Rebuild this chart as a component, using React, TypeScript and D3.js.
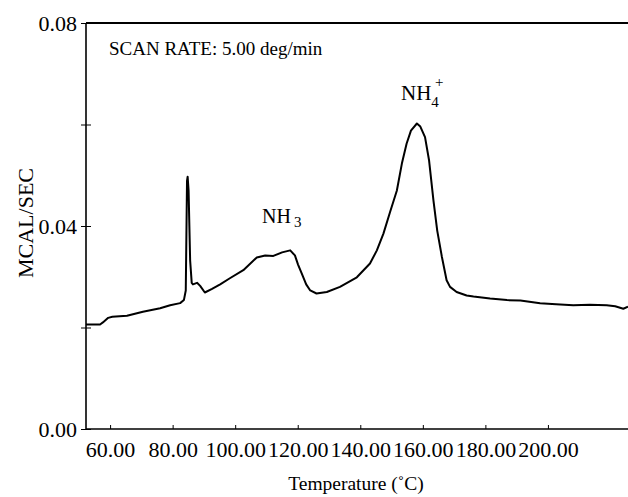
import React, { useRef, useEffect } from 'react';
import * as d3 from 'd3';

// trace (temperature in deg C, heat flow in MCAL/SEC)
const temps = [
  52.3, 56.8, 57.7, 59.4, 60.7, 65.4, 70.5, 76.0, 79.2, 82.4, 83.6, 84.2, 84.6, 84.8, 85.1,
  85.6, 86.1, 86.5, 87.8, 88.8, 90.3, 92.6, 95.2, 98.3, 102.6, 106.9, 109.6, 112.2, 115.0,
  117.6, 119.1, 120.1, 121.3, 122.7, 124.0, 126.0, 129.3, 133.5, 138.9, 143.1, 145.3, 147.4,
  149.5, 151.7, 153.3, 154.8, 156.2, 158.1, 159.2, 160.7, 162.0, 163.4, 164.6, 166.1, 167.6,
  168.7, 170.8, 174.0, 176.2, 181.5, 186.9, 191.2, 197.5, 202.6, 208.1, 213.4, 218.8, 221.5,
  224.1, 225.6,
];
const values = [
  0.0206, 0.0206, 0.0210, 0.0219, 0.0221, 0.0223, 0.0231, 0.0238, 0.0244, 0.0248, 0.0254,
  0.0273, 0.0489, 0.0497, 0.0470, 0.0332, 0.0288, 0.0285, 0.0288, 0.0282, 0.0269, 0.0276,
  0.0285, 0.0297, 0.0313, 0.0338, 0.0342, 0.0341, 0.0348, 0.0352, 0.0342, 0.0324, 0.0306,
  0.0285, 0.0273, 0.0267, 0.0270, 0.0280, 0.0299, 0.0326, 0.0352, 0.0385, 0.0427, 0.0470,
  0.0523, 0.0562, 0.0588, 0.0602, 0.0596, 0.0575, 0.0529, 0.0450, 0.0391, 0.0339, 0.0293,
  0.0280, 0.0270, 0.0263, 0.0261, 0.0257, 0.0254, 0.0253, 0.0248, 0.0246, 0.0244, 0.0245,
  0.0244, 0.0242, 0.0237, 0.0241,
];
const xTicks = [60, 80, 100, 120, 140, 160, 180, 200];
const yTicks = [0, 0.02, 0.04, 0.06, 0.08];
const yLabelled = [0, 0.04, 0.08];

const serif = '"Liberation Serif", "DejaVu Serif", serif';

const App = () => {
  const svgRef = useRef<SVGSVGElement>(null);

  useEffect(() => {
    document.body.style.margin = '0';
    const svg = d3.select(svgRef.current);
    svg.selectAll('*').remove();

    const width = 628;
    const height = 497;
    const margin = { top: 23, right: 0, bottom: 68, left: 86 };

    const x = d3.scaleLinear()
      .domain([52.3, 225.6])
      .range([margin.left, width - margin.right]);

    const y = d3.scaleLinear()
      .domain([0, 0.08])
      .range([height - margin.bottom, margin.top]);

    // frame: left, bottom and top lines
    svg.append('line')
      .attr('x1', margin.left).attr('x2', margin.left)
      .attr('y1', y(0.08)).attr('y2', y(0))
      .attr('stroke', '#000').attr('stroke-width', 1.6);
    svg.append('line')
      .attr('x1', margin.left).attr('x2', width)
      .attr('y1', y(0)).attr('y2', y(0))
      .attr('stroke', '#000').attr('stroke-width', 1.6);
    svg.append('line')
      .attr('x1', margin.left).attr('x2', width)
      .attr('y1', y(0.08)).attr('y2', y(0.08))
      .attr('stroke', '#000').attr('stroke-width', 2);

    const xAxisG = g => g
      .attr('transform', `translate(0,${y(0)})`)
      .call(d3.axisBottom(x).tickValues(xTicks).tickSize(-4).tickPadding(12)
        .tickFormat(d3.format('.2f')))
      .call(g => g.select('.domain').remove())
      .call(g => g.selectAll('text')
        .attr('font-family', serif).attr('font-size', 22).attr('fill', '#000'));

    const yAxisG = g => g
      .attr('transform', `translate(${margin.left},0)`)
      .call(d3.axisLeft(y).tickValues(yTicks).tickSize(5).tickPadding(4)
        .tickFormat(d => yLabelled.includes(+d) ? d3.format('.2f')(d) : ''))
      .call(g => g.select('.domain').remove())
      .call(g => g.selectAll('.tick line').attr('x2', 5).attr('x1', -5))
      .call(g => g.selectAll('text')
        .attr('font-family', serif).attr('font-size', 22).attr('fill', '#000'));

    svg.append('g').call(xAxisG);
    svg.append('g').call(yAxisG);

    const line = d3.line<number>()
      .x((d, i) => x(temps[i]))
      .y(d => y(d));

    svg.append('path')
      .datum(values)
      .attr('fill', 'none')
      .attr('stroke', '#000')
      .attr('stroke-width', 2)
      .attr('stroke-linejoin', 'round')
      .attr('d', line);

    // axis titles
    svg.append('text')
      .attr('x', 356)
      .attr('y', 490)
      .attr('text-anchor', 'middle')
      .attr('font-family', serif)
      .attr('font-size', 19.5)
      .text('Temperature (\u02DAC)');

    svg.append('text')
      .attr('transform', `translate(33,223) rotate(-90)`)
      .attr('text-anchor', 'middle')
      .attr('font-family', serif)
      .attr('font-size', 22)
      .text('MCAL/SEC');

    svg.append('text')
      .attr('x', 109)
      .attr('y', 55)
      .attr('font-family', serif)
      .attr('font-size', 19)
      .text('SCAN RATE: 5.00 deg/min');

    // peak annotations
    const nh3 = svg.append('text')
      .attr('x', 262).attr('y', 223)
      .attr('font-family', serif).attr('font-size', 20);
    nh3.append('tspan').text('NH');
    nh3.append('tspan').attr('dx', 3).attr('dy', 4).attr('font-size', 15).text('3');

    const nh4 = svg.append('text')
      .attr('x', 401).attr('y', 100)
      .attr('font-family', serif).attr('font-size', 21);
    nh4.append('tspan').text('NH');
    nh4.append('tspan').attr('dy', 7).attr('font-size', 15).text('4');
    svg.append('text')
      .attr('x', 435).attr('y', 87)
      .attr('font-family', serif).attr('font-size', 15)
      .text('+');
  }, []);

  return (
    <div>
      <svg ref={svgRef} width={628} height={497} style={{ display: 'block' }}></svg>
    </div>
  );
};

export default App;
